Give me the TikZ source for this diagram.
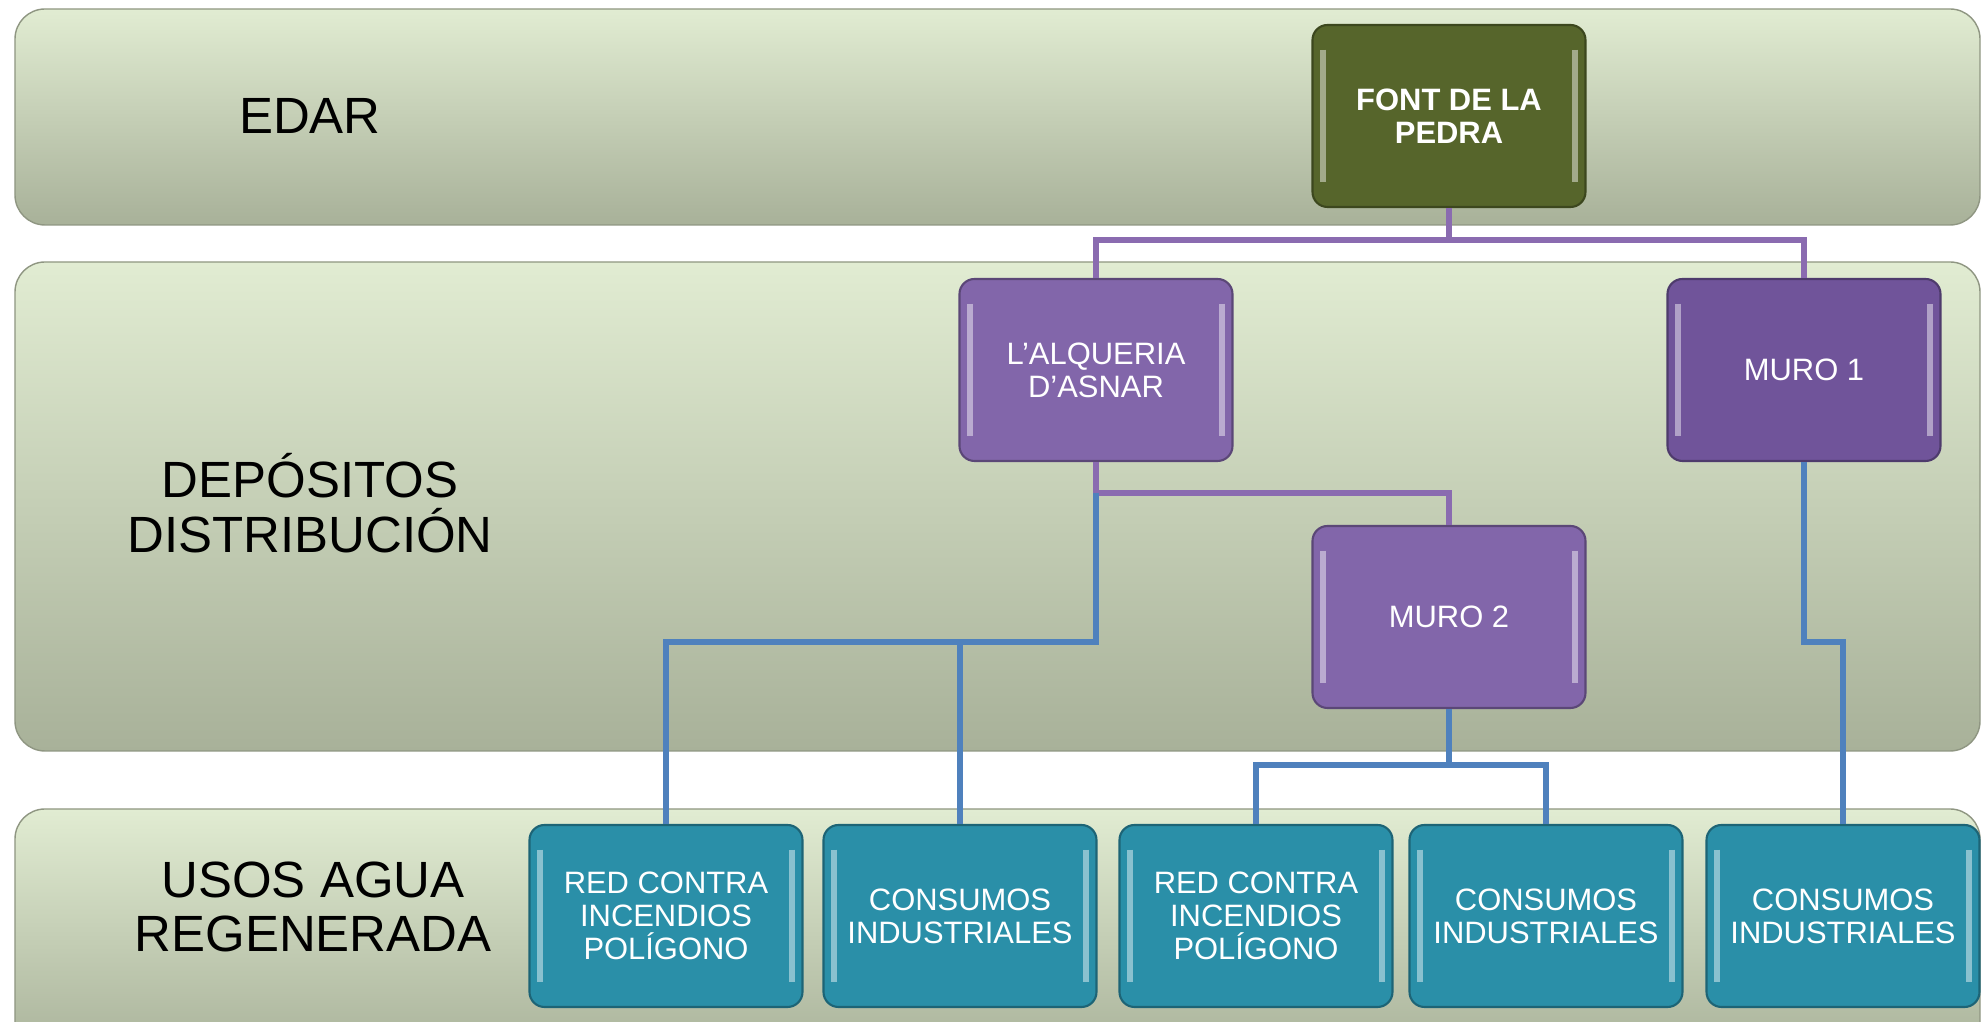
\documentclass[tikz,border=0pt]{standalone}
\usepackage{fontspec}
\setmainfont{Liberation Sans}
\usetikzlibrary{positioning}
\definecolor{bandtop}{HTML}{E1ECD2}
\definecolor{bandbot}{HTML}{A8B199}
\definecolor{edarolive}{HTML}{56652B}
\definecolor{lilac}{HTML}{8266AA}
\definecolor{lilacdark}{HTML}{70549A}
\definecolor{usoteal}{HTML}{2A8FA8}
\definecolor{wireP}{HTML}{8A6BB0}
\definecolor{wireB}{HTML}{4F81BD}

\begin{document}
\begin{tikzpicture}[x=1cm,y=1cm,
    band/.style={rounded corners=3mm,top color=bandtop,bottom color=bandbot,
                 draw=bandbot!85!black,line width=0.4pt},
    level/.style={font=\fontsize{14.5}{15.5}\selectfont,align=center},
    bevel/.style={path picture={
        \draw[white,opacity=.45,line width=1.6pt]
          ([shift={(3pt,-7pt)}]path picture bounding box.north west) --
          ([shift={(3pt,7pt)}]path picture bounding box.south west)
          ([shift={(-3pt,-7pt)}]path picture bounding box.north east) --
          ([shift={(-3pt,7pt)}]path picture bounding box.south east);}},
    box/.style={draw=#1!70!black,fill=#1,rounded corners=1.5mm,bevel,
                minimum width=27.3mm,minimum height=18.2mm,text=white,
                align=center,font=\fontsize{8.8}{9.4}\selectfont,line width=0.6pt},
    linkP/.style={wireP,line width=1.5pt},
    linkB/.style={wireB,line width=1.5pt}]
    \useasboundingbox (0,0) rectangle (19.82,10.22);
    \clip (0,0) rectangle (19.82,10.22);
    % bands
    \path[band] (0.15,7.97) rectangle (19.80,10.13);
    \path[band] (0.15,2.71) rectangle (19.80,7.60);
    \path[band] (0.15,-0.40) rectangle (19.80,2.13);
    \node[level] (edar) at (3.10,9.06) {EDAR};
    \node[level] (dep) at (3.10,5.19) {DEPÓSITOS\\DISTRIBUCIÓN};
    \node[level] (usos) at (3.13,1.15) {USOS AGUA\\REGENERADA};
    % nodes
    \node[box=edarolive] (font) at (14.49,9.06) {\textbf{FONT DE LA}\\\textbf{PEDRA}};
    \node[box=lilac] (alq) at (10.96,6.52) {L’ALQUERIA\\D’ASNAR};
    \node[box=lilacdark] (muro1) at (18.04,6.52) {MURO 1};
    \node[box=lilac] (muro2) at (14.49,4.05) {MURO 2};
    \node[box=usoteal] (red1) at (6.66,1.06) {RED CONTRA\\INCENDIOS\\POLÍGONO};
    \node[box=usoteal] (cons1) at (9.60,1.06) {CONSUMOS\\INDUSTRIALES};
    \node[box=usoteal] (red2) at (12.56,1.06) {RED CONTRA\\INCENDIOS\\POLÍGONO};
    \node[box=usoteal] (cons2) at (15.46,1.06) {CONSUMOS\\INDUSTRIALES};
    \node[box=usoteal] (cons3) at (18.43,1.06) {CONSUMOS\\INDUSTRIALES};
    % bus levels
    \coordinate (busF) at (0,7.82);
    \coordinate (busA) at (0,5.29);
    \coordinate (busU) at (0,3.80);
    \coordinate (busM) at (0,2.57);
    % connectors
    \draw[linkP] (font.south) -- (font.south |- busF) -| (alq.north);
    \draw[linkP] (font.south |- busF) -| (muro1.north);
    \draw[linkP] (alq.south) -- (alq.south |- busA) -| (muro2.north);
    \draw[linkB] (alq.south |- busA) -- (alq.south |- busU) -| (red1.north);
    \draw[linkB] (cons1.north |- busU) -- (cons1.north);
    \draw[linkB] (muro2.south) -- (muro2.south |- busM) -| (red2.north);
    \draw[linkB] (muro2.south |- busM) -| (cons2.north);
    \draw[linkB] (muro1.south) -- (muro1.south |- busU) -| (cons3.north);
\end{tikzpicture}
\end{document}
